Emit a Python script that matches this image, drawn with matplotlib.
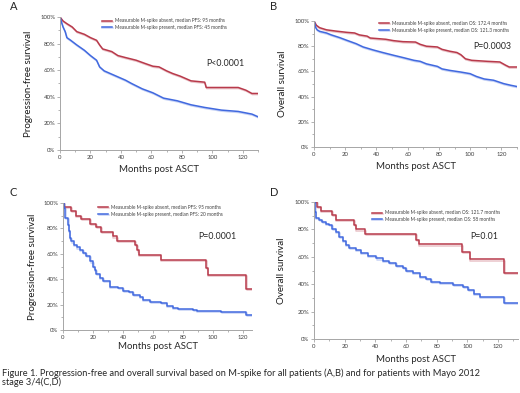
import matplotlib
matplotlib.use("Agg")
import matplotlib.pyplot as plt
import matplotlib.patheffects as pe
from matplotlib.ticker import MultipleLocator, FuncFormatter

plt.rcParams["font.family"] = ["Lato", "DejaVu Sans"]

RED = "#b83a4b"
BLUE = "#4169df"

# Panel A: PFS, all patients (months, survival %)
a_absent_t = [0, 2, 4.5, 8, 11, 16, 20, 24, 26, 28, 34, 38, 43, 50, 56, 61, 65, 70, 74, 79, 86, 95, 96, 97, 117, 122, 126, 130]
a_absent_s = [100, 97, 95, 92.5, 89, 87, 84.5, 82.5, 79, 76, 74, 71, 69.5, 67.5, 65, 63, 62.5, 59.5, 57.5, 55.5, 52, 51, 47, 47, 47, 45, 42.5, 42.5]
a_present_t = [0, 1, 2, 3.4, 4.5, 7, 11, 16, 20, 24, 26, 29, 36, 43, 47, 54, 61, 68, 77, 86, 95, 106, 117, 126, 130]
a_present_s = [100, 96, 92.5, 89, 84.5, 82.5, 79, 75, 71, 67.5, 62.5, 59.5, 56, 52.5, 50, 46, 43, 39, 37, 34, 32, 30, 29, 27, 25]

# Panel B: OS, all patients
b_absent_t = [0, 1.5, 3.6, 8, 14, 21, 26, 29, 34, 36, 46, 51, 57, 65, 68, 72, 79, 82, 87, 91.5, 94, 97, 101, 111, 119, 122.6, 125, 130]
b_absent_s = [100, 96.6, 94.7, 93, 92, 91, 90.5, 89, 88, 86.5, 85.5, 84.4, 83.6, 83.3, 81.5, 80, 79.4, 77.5, 76, 75, 73.3, 70, 68.8, 68, 67.5, 65, 63.5, 63.5]
b_present_t = [0, 1, 2, 3.6, 8, 11, 16.5, 21, 27, 31.5, 38, 44, 51, 57, 64, 68, 72, 79, 82, 87, 94, 100, 104, 109, 115, 121.5, 126, 130]
b_present_s = [100, 95, 93, 91.8, 90.5, 89, 86.8, 84.7, 82, 79.4, 77, 75, 72.8, 71, 68.8, 68, 66, 64, 62, 60.8, 59.5, 58.2, 56, 54, 53, 50.3, 49, 48]

# Panel C: PFS, Mayo 2012 stage 3/4
c_absent_t = [0, 0.7, 5.5, 8.5, 12, 18, 22, 25.5, 33, 36, 48, 49.5, 50.5, 65, 95.5, 96.5, 122, 126]
c_absent_s = [100, 97, 93.4, 90, 87.4, 83.7, 80.8, 77, 73.7, 70.3, 67, 62.6, 59, 55, 49, 43.4, 32, 32]
c_present_t = [0, 0.7, 1.3, 3.3, 3.8, 4.4, 5.5, 7, 9, 11, 13.3, 15.5, 18, 20, 21, 22, 24.5, 26.7, 31, 36.7, 40, 44, 46.7, 51, 53, 58, 65.5, 69, 73, 76.7, 86.7, 89, 105.5, 122, 126]
c_present_s = [100, 96, 88, 83, 78, 72.4, 69.7, 67, 65, 63, 60.5, 58, 54, 50, 47.4, 44, 40.8, 38.7, 34, 33, 30.8, 29.7, 27.6, 25.8, 23.7, 22.4, 21, 19.2, 17.6, 16.3, 15.8, 15, 14, 12, 12]

# Panel D: OS, Mayo 2012 stage 3/4
d_absent_t = [0, 2.2, 4.4, 12, 14.2, 26.2, 27.3, 33.4, 66.7, 68.4, 96.8, 101.6, 124, 133]
d_absent_s = [100, 96.4, 93.5, 90.3, 87.2, 83, 80, 76.5, 72.4, 69, 63.7, 58.1, 48.4, 48.4]
d_present_t = [0, 0.7, 1.1, 3.3, 5.5, 7.7, 9.8, 12, 14.2, 16.4, 18.6, 20.8, 23, 27.3, 30.6, 35, 40.4, 44.8, 49.2, 53.6, 58, 60, 64.5, 68.8, 73, 76.5, 82, 90.7, 97.3, 100.5, 104, 108, 117, 124, 133]
d_present_s = [100, 92.7, 88.4, 86.7, 85.5, 84.3, 83, 80.6, 78.2, 74.6, 71.4, 68.5, 66.6, 65, 62.5, 60.8, 58.8, 56.9, 55.2, 53.5, 51.6, 49.6, 48, 45.5, 43.8, 41.4, 40.7, 39.5, 38.3, 35.8, 32.7, 31, 30.5, 26.6, 26.6]

caption = ["Figure 1. Progression-free and overall survival based on M-spike for all patients (A,B) and for patients with Mayo 2012",
           "stage 3/4(C,D)"]

panels = [
    dict(letter="A", rect=(60, 17, 258, 150), xmax=130, steps=False,
         absent=(a_absent_t, a_absent_s), present=(a_present_t, a_present_s),
         ylabel="Progression-free survival", pval="P<0.0001", ppos=(0.737, 0.654),
         labels=["Measurable M-spike absent, median PFS: 95 months",
                 "Measurable M-spike present, median PFS: 45 months"],
         legpos=(0.21, 0.99), letterpos=(10, 7), xlab_y=-0.115),
    dict(letter="B", rect=(314, 21, 517, 147), xmax=130, steps=False,
         absent=(b_absent_t, b_absent_s), present=(b_present_t, b_present_s),
         ylabel="Overall survival", pval="P=0.0003", ppos=(0.783, 0.794),
         labels=["Measurable M-spike absent, median OS: 172.4 months",
                 "Measurable M-spike present, median OS: 121.3 months"],
         legpos=(0.32, 1.0), letterpos=(270, 7), xlab_y=-0.12),
    dict(letter="C", rect=(63, 203, 252, 330), xmax=126, steps=True,
         absent=(c_absent_t, c_absent_s), present=(c_present_t, c_present_s),
         ylabel="Progression-free survival", pval="P=0.0001", ppos=(0.714, 0.74),
         labels=["Measurable M-spike absent, median PFS: 95 months",
                 "Measurable M-spike present, median PFS: 20 months"],
         legpos=(0.185, 0.985), letterpos=(10, 193), xlab_y=-0.095),
    dict(letter="D", rect=(314, 202, 518, 339), xmax=133, steps=True,
         absent=(d_absent_t, d_absent_s), present=(d_present_t, d_present_s),
         ylabel="Overall survival", pval="P=0.01", ppos=(0.765, 0.745),
         labels=["Measurable M-spike absent, median OS: 121.7 months",
                 "Measurable M-spike present, median OS: 58 months"],
         legpos=(0.284, 0.94), letterpos=(270, 193), xlab_y=-0.118),
]

W, H = 520, 393
fig = plt.figure(figsize=(W / 100, H / 100), dpi=100)

shadow = lambda c: [pe.SimpleLineShadow(offset=(0.4, -0.8), shadow_color=c, alpha=0.3),
                    pe.Normal()]

for p in panels:
    l, t, r, b = p["rect"]
    ax = fig.add_axes([l / W, 1 - b / H, (r - l) / W, (b - t) / H])
    ds = "steps-post" if p["steps"] else "default"
    for (tt, ss), col, lab in [(p["absent"], RED, p["labels"][0]),
                               (p["present"], BLUE, p["labels"][1])]:
        ax.plot(tt, [s / 100 for s in ss], color=col, lw=1.1, drawstyle=ds,
                label=lab, path_effects=shadow(col))
    ax.set_xlim(0, p["xmax"])
    ax.set_ylim(0, 1.0)
    for s in ["top", "right"]:
        ax.spines[s].set_visible(False)
    for s in ["left", "bottom"]:
        ax.spines[s].set_color("#a6a6a6")
        ax.spines[s].set_linewidth(0.7)
    ax.xaxis.set_major_locator(MultipleLocator(20))
    ax.xaxis.set_minor_locator(MultipleLocator(10))
    ax.yaxis.set_major_locator(MultipleLocator(0.2))
    ax.yaxis.set_minor_locator(MultipleLocator(0.1))
    ax.yaxis.set_major_formatter(FuncFormatter(lambda v, pos: f"{v * 100:.0f}%"))
    ax.tick_params(which="both", direction="out", color="#a6a6a6", width=0.6,
                   labelsize=4.3, labelcolor="#404040", pad=1.5)
    ax.tick_params(which="major", length=2)
    ax.tick_params(which="minor", length=1.5)
    ax.set_xlabel("Months post ASCT", fontsize=6.9, color="#262626")
    ax.set_ylabel(p["ylabel"], fontsize=7.0, color="#1a1a1a")
    ax.xaxis.set_label_coords(0.5, p["xlab_y"])
    ax.yaxis.set_label_coords(-0.135, 0.5)
    ax.text(p["ppos"][0], p["ppos"][1], p["pval"], transform=ax.transAxes,
            fontsize=6.3, color="#262626", va="center", ha="left")
    ax.legend(loc="upper left", bbox_to_anchor=p["legpos"], frameon=False,
              fontsize=3.4, handlelength=2.2, handletextpad=0.6,
              borderpad=0, borderaxespad=0, labelspacing=0.35,
              labelcolor="#404040")
    fig.text(p["letterpos"][0] / W, 1 - p["letterpos"][1] / H, p["letter"],
             fontsize=8, color="#262626", va="center", ha="left")

for i, line in enumerate(caption):
    fig.text(2 / W, 1 - (373 + 9.5 * i) / H, line,
             fontsize=6.7, color="#262626", va="center", ha="left")

fig.savefig("out.png", dpi=100)
